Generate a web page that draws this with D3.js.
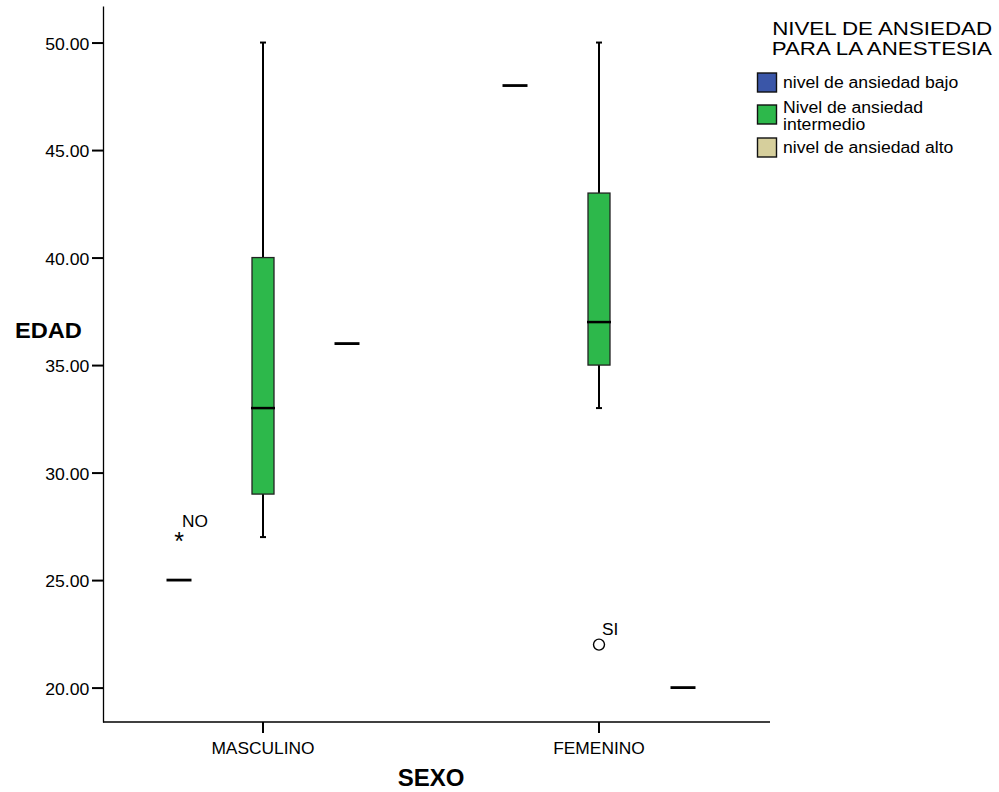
<!DOCTYPE html>
<html>
<head>
<meta charset="utf-8">
<script src="https://cdn.jsdelivr.net/npm/d3@7"></script>
<style>
  html, body { margin: 0; padding: 0; background: #fff; }
  svg text { font-family: "Liberation Sans", Arial, sans-serif; fill: #000; }
</style>
</head>
<body>
<svg id="chart" width="999" height="792"></svg>
<script>
// Sex groups on the x axis
const categories = ["MASCULINO", "FEMENINO"];
// Anxiety levels (box series within each group)
const levels = ["nivel de ansiedad bajo", "Nivel de ansiedad intermedio", "nivel de ansiedad alto"];
const legendTitle = ["NIVEL DE ANSIEDAD", "PARA LA ANESTESIA"];
const legendLabels = [["nivel de ansiedad bajo"], ["Nivel de ansiedad", "intermedio"], ["nivel de ansiedad alto"]];
const levelColors = ["#3A56A8", "#2DB84B", "#D6CF9C"];

// Box statistics per group: [min, q1, median, q3, max] for each level
const statsMasculino = [[25, 25, 25, 25, 25], [27, 29, 33, 40, 50], [36, 36, 36, 36, 36]];
const statsFemenino  = [[48, 48, 48, 48, 48], [33, 35, 37, 43, 50], [20, 20, 20, 20, 20]];

// Outliers: group, level index, value, label, kind
const outlierGroups = ["MASCULINO", "FEMENINO"];
const outlierLevels = [0, 1];
const outlierValues = [27, 22];
const outlierLabels = ["NO", "SI"];
const outlierKinds  = ["extreme", "outlier"];

const yTicks = [20, 25, 30, 35, 40, 45, 50];

const svg = d3.select("#chart");

const x = d3.scaleBand().domain(categories).range([95, 767]);
const sub = d3.scaleBand().domain(d3.range(levels.length)).range([-126, 126]);
const y = d3.scaleLinear().domain([18.4, 51.7]).range([722, 6]);

const boxW = 22, lineW = 25, capW = 6;

// Text helper: the chart's sans type runs slightly wide, so each label is stretched horizontally.
// Multi-line labels become one text element with stacked tspans.
function label(parent, px, py, lines, size, opts = {}) {
  const arr = Array.isArray(lines) ? lines : [lines];
  const t = parent.append("text")
    .attr("transform", `translate(${px},${py}) scale(${opts.sx || 1.1},1)`)
    .attr("font-size", size)
    .attr("text-anchor", opts.anchor || "start");
  arr.forEach((s, j) => t.append("tspan").attr("x", 0).attr("y", j * (opts.lead || 0)).text(s));
  if (opts.bold) t.attr("font-weight", "bold");
  return t;
}

// Axes
const yAxis = svg.append("g")
  .attr("transform", "translate(103,0)")
  .call(d3.axisLeft(y).tickValues(yTicks).tickFormat(d3.format(".2f")).tickSize(11).tickSizeOuter(0).tickPadding(2));
yAxis.select(".domain").attr("stroke", "#000").attr("stroke-width", 1.3);
yAxis.selectAll(".tick line").attr("stroke", "#000").attr("stroke-width", 2);
yAxis.selectAll(".tick text").attr("font-size", 16.8).attr("dy", "0.4em")
  .attr("transform", "scale(1.05,1)");

const xAxis = svg.append("g")
  .attr("transform", "translate(0,722)")
  .call(d3.axisBottom(x).tickSize(11).tickSizeOuter(0).tickPadding(9.5));
xAxis.select(".domain").attr("d", "M103,0H770").attr("stroke", "#000").attr("stroke-width", 1.3);
xAxis.selectAll(".tick line").attr("stroke", "#000").attr("stroke-width", 2);
xAxis.selectAll(".tick text").attr("font-size", 15.8).attr("transform", "scale(1.1,1)");

// Axis titles
label(svg, 15, 338, "EDAD", 22.5, { bold: true, sx: 1.05 });
label(svg, 431, 786, "SEXO", 23.3, { bold: true, sx: 1.03, anchor: "middle" });

// Boxes
const groups = [["MASCULINO", statsMasculino], ["FEMENINO", statsFemenino]];
groups.forEach(([cat, stats]) => {
  stats.forEach((s, i) => {
    const cx = x(cat) + x.bandwidth() / 2 + sub(i) + sub.bandwidth() / 2;
    const [mn, q1, md, q3, mx] = s;
    const g = svg.append("g");
    if (q3 > q1) {
      // whiskers
      g.append("line").attr("x1", cx).attr("x2", cx).attr("y1", y(mx)).attr("y2", y(q3))
        .attr("stroke", "#000").attr("stroke-width", 2);
      g.append("line").attr("x1", cx).attr("x2", cx).attr("y1", y(q1)).attr("y2", y(mn))
        .attr("stroke", "#000").attr("stroke-width", 2);
      g.append("line").attr("x1", cx - capW / 2).attr("x2", cx + capW / 2).attr("y1", y(mx)).attr("y2", y(mx))
        .attr("stroke", "#000").attr("stroke-width", 2);
      g.append("line").attr("x1", cx - capW / 2).attr("x2", cx + capW / 2).attr("y1", y(mn)).attr("y2", y(mn))
        .attr("stroke", "#000").attr("stroke-width", 2);
      // box
      g.append("rect").attr("x", cx - boxW / 2).attr("y", y(q3)).attr("width", boxW).attr("height", y(q1) - y(q3))
        .attr("fill", levelColors[i]).attr("stroke", "#222").attr("stroke-width", 1.3);
      // median
      g.append("line").attr("x1", cx - boxW / 2 - 1).attr("x2", cx + boxW / 2 + 1).attr("y1", y(md)).attr("y2", y(md))
        .attr("stroke", "#000").attr("stroke-width", 2.5);
    } else {
      // single-valued level drawn as a bar line
      g.append("line").attr("x1", cx - lineW / 2).attr("x2", cx + lineW / 2).attr("y1", y(md)).attr("y2", y(md))
        .attr("stroke", "#000").attr("stroke-width", 2.8);
    }
  });
});

// Outliers
outlierValues.forEach((v, k) => {
  const cat = outlierGroups[k], li = outlierLevels[k];
  const cx = x(cat) + x.bandwidth() / 2 + sub(li) + sub.bandwidth() / 2;
  const cy = y(v);
  if (outlierKinds[k] === "extreme") {
    svg.append("text").attr("x", cx).attr("y", cy + 13).attr("text-anchor", "middle")
      .attr("font-size", 25).text("*");
  } else {
    svg.append("circle").attr("cx", cx).attr("cy", cy).attr("r", 5.5)
      .attr("fill", "none").attr("stroke", "#000").attr("stroke-width", 1.4);
  }
  label(svg, cx + 3, cy - 10, outlierLabels[k], 16.5, { sx: 1.05 });
});

// Legend
const legend = svg.append("g");
label(legend, 992, 35, legendTitle, 18, { anchor: "end", sx: 1.24, lead: 20.5 });
const swatchY = [73, 105, 138];
const textY = [88, 112.5, 153];
legendLabels.forEach((lines, i) => {
  legend.append("rect").attr("x", 757.5).attr("y", swatchY[i]).attr("width", 19).attr("height", 19)
    .attr("fill", levelColors[i]).attr("stroke", "#111").attr("stroke-width", 1.4);
  label(legend, 783, textY[i], lines, 15.6, { sx: 1.13, lead: 17.5 });
});
</script>
</body>
</html>
